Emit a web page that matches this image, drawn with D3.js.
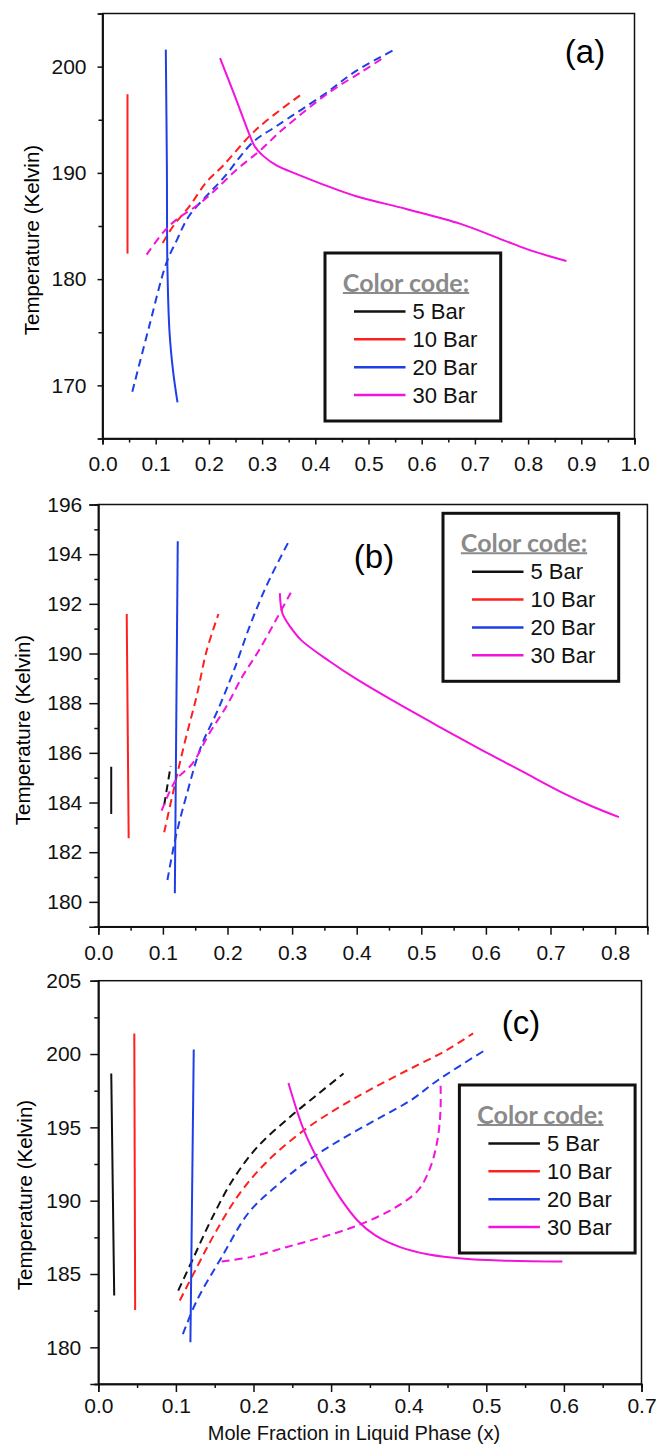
<!DOCTYPE html>
<html>
<head>
<meta charset="utf-8">
<script src="https://cdn.jsdelivr.net/npm/d3@7"></script>
<style>
  body { margin: 0; background: #fff; }
  svg { display: block; }
  .axis text { font-family: "Liberation Sans", Arial, sans-serif; font-size: 21px; fill: #111; }
  .axis path, .axis line { stroke: #111; stroke-width: 1.5px; }
</style>
</head>
<body>
<svg id="chart" width="656" height="1447"></svg>
<script>
// pressures in legend
var pressures = ["5 Bar", "10 Bar", "20 Bar", "30 Bar"];
var colors = ["#111111", "#ff1f1f", "#1f3fe6", "#f412dc"];

// panel (a) : [x, T]
var a10Solid = [[0.047,182.4],[0.047,197.4]];
var a10Dash = [[0.113,183.4],[0.133,185.0],[0.164,186.9],[0.195,189.1],[0.227,190.7],[0.277,193.5],[0.308,194.9],[0.374,197.4]];
var a20Solid = [[0.119,201.6],[0.121,190.7],[0.122,181.2],[0.126,175.0],[0.133,171.2],[0.141,168.4]];
var a20Dash = [[0.056,169.4],[0.088,175.6],[0.120,181.5],[0.140,183.7],[0.162,185.9],[0.195,187.8],[0.227,189.5],[0.283,192.9],[0.327,194.4],[0.414,197.3],[0.477,199.6],[0.549,201.6]];
var a30Solid = [[0.221,200.8],[0.249,197.2],[0.277,193.5],[0.286,192.5],[0.302,191.6],[0.327,190.7],[0.364,189.9],[0.415,188.9],[0.477,187.8],[0.571,186.6],[0.673,185.2],[0.752,183.7],[0.799,182.8],[0.872,181.7]];
var a30Dash = [[0.083,182.3],[0.114,184.4],[0.139,185.6],[0.177,186.9],[0.208,188.2],[0.252,190.3],[0.296,192.1],[0.339,194.1],[0.427,197.6],[0.490,199.6],[0.527,200.8]];

// panel (b)
var b5Solid = [[0.020,183.54],[0.020,185.44]];
var b5Dash = [[0.102,183.9],[0.112,185.47]];
var b10Solid = [[0.047,182.56],[0.044,191.59]];
var b10Dash = [[0.102,182.8],[0.120,184.9],[0.136,186.65],[0.152,188.26],[0.168,190.14],[0.186,191.59]];
var b20Solid = [[0.1185,180.35],[0.123,194.52]];
var b20Dash = [[0.107,180.88],[0.120,182.63],[0.136,184.24],[0.159,186.25],[0.185,187.72],[0.210,189.33],[0.236,191.21],[0.262,192.82],[0.295,194.52]];
var b30Solid = [[0.281,192.43],[0.285,191.62],[0.297,191.08],[0.314,190.54],[0.359,189.67],[0.398,189.0],[0.463,188.0],[0.528,187.05],[0.593,186.12],[0.657,185.24],[0.722,184.35],[0.764,183.85],[0.806,183.41]];
var b30Dash = [[0.098,183.67],[0.120,184.9],[0.146,185.58],[0.172,186.79],[0.198,187.86],[0.223,189.07],[0.249,190.14],[0.275,191.35],[0.298,192.45]];

// panel (c)
var c5Solid = [[0.0167,198.67],[0.0205,183.53]];
var c5Dash = [[0.103,183.87],[0.123,186.15],[0.145,188.65],[0.173,191.39],[0.205,193.66],[0.247,195.71],[0.284,197.31],[0.316,198.67]];
var c10Solid = [[0.0464,201.4],[0.0475,182.55]];
var c10Dash = [[0.105,183.19],[0.127,185.46],[0.150,187.75],[0.182,190.48],[0.219,192.75],[0.265,194.8],[0.311,196.39],[0.357,197.76],[0.403,199.02],[0.449,200.27],[0.483,201.41]];
var c20Solid = [[0.123,200.31],[0.1187,180.34]];
var c20Dash = [[0.109,180.9],[0.127,183.19],[0.159,186.15],[0.194,189.2],[0.228,190.93],[0.265,192.53],[0.311,194.12],[0.357,195.49],[0.403,196.86],[0.438,198.23],[0.500,200.32]];
var c30Solid = [[0.245,198.03],[0.265,194.8],[0.288,192.29],[0.311,190.24],[0.334,188.65],[0.357,187.63],[0.389,186.83],[0.426,186.33],[0.472,186.04],[0.518,185.92],[0.598,185.85]];
var c30Dash = [[0.159,185.85],[0.196,186.15],[0.242,186.83],[0.288,187.51],[0.334,188.31],[0.380,189.45],[0.412,190.7],[0.428,192.29],[0.437,194.12],[0.441,196.17],[0.441,198.1]];

// ticks
var aXTicks = d3.range(0, 1.001, 0.1), aYTicks = [170, 180, 190, 200];
var bXTicks = d3.range(0, 0.801, 0.1), bYTicks = d3.range(180, 196.1, 2);
var cXTicks = d3.range(0, 0.701, 0.1), cYTicks = d3.range(180, 205.1, 5);

var svg = d3.select("#chart");
svg.append("rect").attr("width", 656).attr("height", 1447).attr("fill", "#fff");

function drawPanel(p) {
  var x = d3.scaleLinear().domain(p.xDom).range([p.left, p.right]);
  var y = d3.scaleLinear().domain(p.yDom).range([p.bottom, p.top]);
  var g = svg.append("g");

  var line = d3.line().x(d => x(d[0])).y(d => y(d[1])).curve(d3.curveCatmullRom.alpha(0.5));
  p.series.forEach(s => {
    g.append("path")
      .attr("d", line(s.pts))
      .attr("fill", "none")
      .attr("stroke", colors[s.c])
      .attr("stroke-width", 2)
      .attr("stroke-dasharray", s.dash ? "8,5" : null);
  });

  // box
  g.append("rect")
    .attr("x", p.left).attr("y", p.top)
    .attr("width", p.right - p.left).attr("height", p.bottom - p.top)
    .attr("fill", "none").attr("stroke", "#111").attr("stroke-width", 1.5);

  // minor ticks
  g.append("g").attr("class", "axis")
    .attr("transform", "translate(0," + p.bottom + ")")
    .call(d3.axisBottom(x).tickValues(p.xMinor).tickSize(4).tickFormat(""));
  g.append("g").attr("class", "axis")
    .attr("transform", "translate(" + p.left + ",0)")
    .call(d3.axisLeft(y).tickValues(p.yMinor).tickSize(4).tickFormat(""));

  g.append("g").attr("class", "axis")
    .attr("transform", "translate(0," + p.bottom + ")")
    .call(d3.axisBottom(x).tickValues(p.xTicks).tickSize(p.tx).tickPadding(p.xPad).tickFormat(d3.format(".1f")));
  g.append("g").attr("class", "axis")
    .attr("transform", "translate(" + p.left + ",0)")
    .call(d3.axisLeft(y).tickValues(p.yTicks).tickSize(p.ty).tickPadding(p.yPad).tickFormat(d3.format("d")));

  // y title
  g.append("text")
    .attr("transform", "translate(" + p.yTitle[0] + "," + p.yTitle[1] + ") rotate(-90)")
    .attr("text-anchor", "middle").attr("dominant-baseline", "central")
    .style("font-family", "Liberation Sans, Arial, sans-serif").style("font-size", "20.5px")
    .text("Temperature (Kelvin)");

  // panel label
  g.append("text")
    .attr("x", p.tag[0]).attr("y", p.tag[1])
    .attr("text-anchor", "middle").attr("dominant-baseline", "central")
    .style("font-family", "Liberation Sans, Arial, sans-serif").style("font-size", "33px")
    .text(p.label);

  // legend
  var L = p.legend;
  var lg = g.append("g").attr("transform", "translate(" + L[0] + "," + L[1] + ")");
  lg.append("rect").attr("width", 175.7).attr("height", 168)
    .attr("fill", "#fff").attr("stroke", "#111").attr("stroke-width", 3);
  var title = lg.append("text").attr("x", 81).attr("y", 28.5)
    .attr("text-anchor", "middle").attr("dominant-baseline", "central")
    .style("font-family", "Lato, sans-serif").style("font-weight", "bold")
    .style("font-size", "25px").style("fill", "#8a8a8a")
    .text("Color code:");
  var tw = title.node().getComputedTextLength();
  lg.append("line").attr("x1", 81 - tw / 2).attr("x2", 81 + tw / 2)
    .attr("y1", 40).attr("y2", 40).attr("stroke", "#8a8a8a").attr("stroke-width", 2);
  var rowY = [58.5, 86.3, 114.3, 142];
  pressures.forEach((name, i) => {
    lg.append("line").attr("x1", 29).attr("x2", 80.5)
      .attr("y1", rowY[i]).attr("y2", rowY[i])
      .attr("stroke", colors[i]).attr("stroke-width", 2.5);
    lg.append("text").attr("x", 87.5).attr("y", rowY[i])
      .attr("dominant-baseline", "central")
      .style("font-family", "Liberation Sans, Arial, sans-serif").style("font-size", "22px")
      .style("fill", "#111")
      .text(name);
  });
}

drawPanel({
  left: 102.5, right: 634.5, top: 13.5, bottom: 438.5,
  xDom: [0, 1], yDom: [165, 205],
  xTicks: aXTicks, yTicks: aYTicks,
  xMinor: d3.range(0.05, 1, 0.1), yMinor: [175, 185, 195],
  tx: 6, ty: 5, xPad: 12, yPad: 11,
  yTitle: [31.5, 240], tag: [585, 51], label: "(a)",
  legend: [325, 253],
  series: [
    {pts: a10Solid, c: 1}, {pts: a10Dash, c: 1, dash: true},
    {pts: a20Solid, c: 2}, {pts: a20Dash, c: 2, dash: true},
    {pts: a30Solid, c: 3}, {pts: a30Dash, c: 3, dash: true}
  ]
});

drawPanel({
  left: 98.3, right: 647.4, top: 504.5, bottom: 926.7,
  xDom: [0, 0.85], yDom: [179, 196],
  xTicks: bXTicks, yTicks: bYTicks,
  xMinor: d3.range(0.05, 0.85, 0.1), yMinor: d3.range(179, 196, 2),
  tx: 8, ty: 9, xPad: 10, yPad: 7,
  yTitle: [22, 730], tag: [374, 556], label: "(b)",
  legend: [443, 513.3],
  series: [
    {pts: b5Solid, c: 0}, {pts: b5Dash, c: 0, dash: true},
    {pts: b10Solid, c: 1}, {pts: b10Dash, c: 1, dash: true},
    {pts: b20Solid, c: 2}, {pts: b20Dash, c: 2, dash: true},
    {pts: b30Solid, c: 3}, {pts: b30Dash, c: 3, dash: true}
  ]
});

drawPanel({
  left: 98.3, right: 641.5, top: 980.7, bottom: 1384,
  xDom: [0, 0.7], yDom: [177.5, 205],
  xTicks: cXTicks, yTicks: cYTicks,
  xMinor: d3.range(0.05, 0.7, 0.1), yMinor: d3.range(177.5, 205, 5),
  tx: 8, ty: 8, xPad: 6, yPad: 9,
  yTitle: [24, 1195], tag: [521, 1022], label: "(c)",
  legend: [459.4, 1085],
  series: [
    {pts: c5Solid, c: 0}, {pts: c5Dash, c: 0, dash: true},
    {pts: c10Solid, c: 1}, {pts: c10Dash, c: 1, dash: true},
    {pts: c20Solid, c: 2}, {pts: c20Dash, c: 2, dash: true},
    {pts: c30Solid, c: 3}, {pts: c30Dash, c: 3, dash: true}
  ]
});

svg.append("text")
  .attr("x", 354).attr("y", 1433)
  .attr("text-anchor", "middle").attr("dominant-baseline", "central")
  .style("font-family", "Liberation Sans, Arial, sans-serif").style("font-size", "20px")
  .style("fill", "#111")
  .text("Mole Fraction in Liquid Phase (x)");
</script>
</body>
</html>
